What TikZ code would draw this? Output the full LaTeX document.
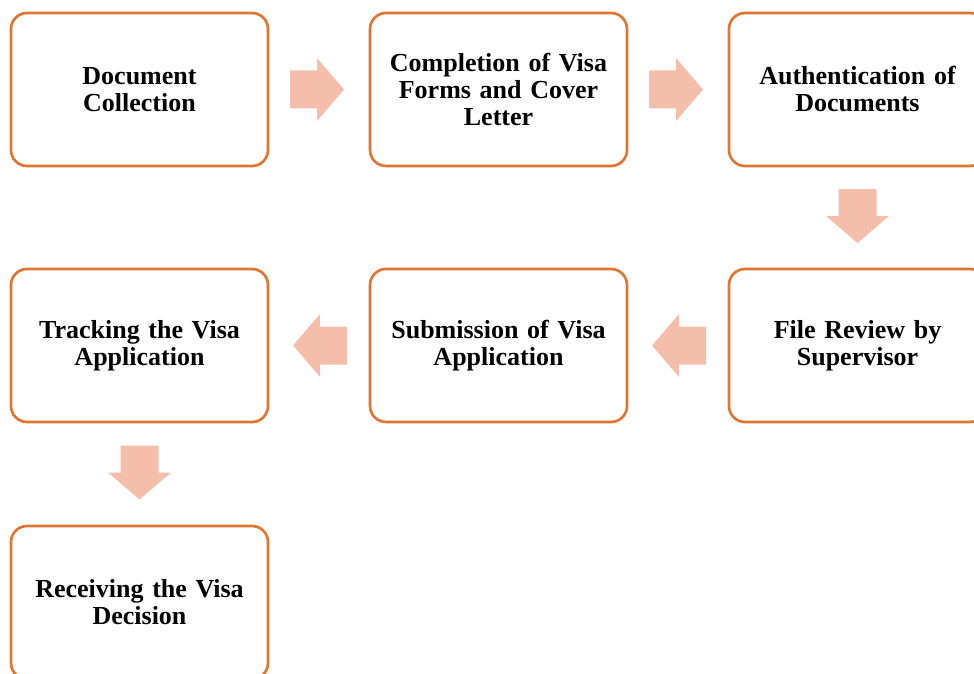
\documentclass[tikz,border=0pt]{standalone}
\usepackage{fontspec}
\setmainfont{Liberation Serif}
\usetikzlibrary{calc}
\definecolor{boxline}{HTML}{DE7634}
\definecolor{arrowfill}{HTML}{F4BEAB}
\tikzset{
  x=1pt,y=1pt,
  stepbox/.style={draw=boxline, line width=2.7pt, rounded corners=16pt, fill=white,
    minimum width=257pt, minimum height=153pt, inner sep=0pt, align=center,
    text width=245pt, font=\bfseries\fontsize{26}{27}\selectfont},
  blockarrow/.pic={\fill[arrowfill] (-27,-19) -- (0,-19) -- (0,-31.5) -- (27,0) -- (0,31.5) -- (0,19) -- (-27,19) -- cycle;}
}
\begin{document}
\begin{tikzpicture}
\useasboundingbox (0,0) rectangle (974,-674);
\clip (0,0) rectangle (974,-674);
\node[stepbox] (b1) at (139.5,-89.5) {Document\\Collection};
\node[stepbox] (b2) at (498.5,-89.5) {Completion of Visa\\Forms and Cover\\Letter};
\node[stepbox] (b3) at (857.5,-89.5) {Authentication of\\Documents};
\node[stepbox] (b4) at (857.5,-345.5) {File Review by\\Supervisor};
\node[stepbox] (b5) at (498.5,-345.5) {Submission of Visa\\Application};
\node[stepbox] (b6) at (139.5,-345.5) {Tracking the Visa\\Application};
\node[stepbox] (b7) at (139.5,-602.5) {Receiving the Visa\\Decision};
\coordinate (a12) at ($(b1.east)!0.5!(b2.west)+(-2,0)$);
\coordinate (a23) at ($(b2.east)!0.5!(b3.west)+(-2,0)$);
\coordinate (a34) at ($(b3.south)!0.5!(b4.north)+(0,1.5)$);
\coordinate (a45) at ($(b4.west)!0.5!(b5.east)+(1,0)$);
\coordinate (a56) at ($(b5.west)!0.5!(b6.east)+(1,0)$);
\coordinate (a67) at ($(b6.south)!0.5!(b7.north)+(0,1.5)$);
\pic at (a12) {blockarrow};
\pic at (a23) {blockarrow};
\pic[rotate=-90] at (a34) {blockarrow};
\pic[rotate=180] at (a45) {blockarrow};
\pic[rotate=180] at (a56) {blockarrow};
\pic[rotate=-90] at (a67) {blockarrow};
\end{tikzpicture}
\end{document}
